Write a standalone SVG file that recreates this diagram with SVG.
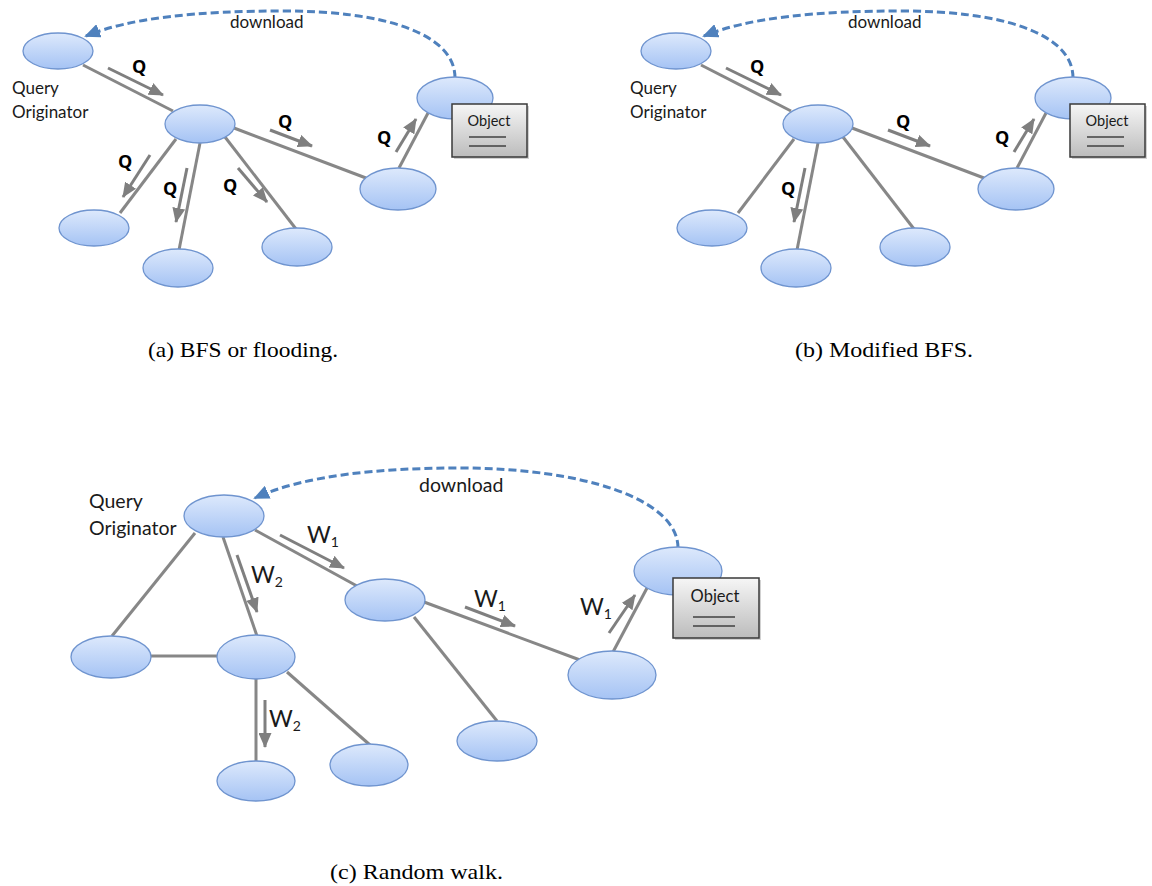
<svg xmlns="http://www.w3.org/2000/svg" width="1152" height="886" viewBox="0 0 1152 886">
<style>
.nd{fill:url(#ng);stroke:#6f94cf;stroke-width:1.3}
.ed{stroke:#878787;stroke-width:3;fill:none}
.ar{stroke:#7f7f7f;stroke-width:3;fill:none;marker-end:url(#ah)}
.dl{stroke:#4f81bd;stroke-width:3;fill:none;stroke-dasharray:8 4;marker-end:url(#dh)}
.bx{fill:url(#bg);stroke:#3a3a3a;stroke-width:1.5}
.sh{fill:#000;opacity:0.18}
.bl{stroke:#404040;stroke-width:1.3}
.t{font-family:Lato,"Open Sans",sans-serif;fill:#1a1a1a}
.q{font-family:"Open Sans",Lato,sans-serif;font-weight:bold;font-size:18px;fill:#000}
.w{font-family:Lato,"Open Sans",sans-serif;font-size:23px;fill:#1a1a1a}
.ws{font-family:Lato,"Open Sans",sans-serif;font-size:14px;fill:#1a1a1a}
.cap{font-family:"Liberation Serif","DejaVu Serif",serif;font-size:21px;fill:#000}
</style>
<defs>
<linearGradient id="ng" x1="0" y1="0" x2="0" y2="1">
<stop offset="0" stop-color="#dde9fc"/>
<stop offset="1" stop-color="#a5c3f4"/>
</linearGradient>
<linearGradient id="bg" x1="0" y1="0" x2="0" y2="1">
<stop offset="0" stop-color="#f6f6f6"/>
<stop offset="1" stop-color="#bcbcbc"/>
</linearGradient>
<marker id="ah" markerWidth="15" markerHeight="13" refX="14" refY="6.5" orient="auto" markerUnits="userSpaceOnUse">
<path d="M0,0 L15,6.5 L0,13 z" fill="#7f7f7f"/>
</marker>
<marker id="dh" markerWidth="16" markerHeight="14" refX="14" refY="7" orient="auto" markerUnits="userSpaceOnUse">
<path d="M0,0 L16,7 L0,14 z" fill="#4f81bd"/>
</marker>
</defs>

<!-- ===== Panel (a) ===== -->
<g id="a-connectors">
<line class="ed" x1="83" y1="65" x2="173" y2="111"/>
<line class="ed" x1="234" y1="128" x2="366" y2="178"/>
<line class="ed" x1="399" y1="168" x2="428" y2="113"/>
<line class="ed" x1="176" y1="139" x2="120" y2="213"/>
<line class="ed" x1="200" y1="143" x2="179" y2="250"/>
<line class="ed" x1="225" y1="137" x2="296" y2="229"/>
<line class="ar" x1="108" y1="68" x2="163" y2="95"/>
<line class="ar" x1="270" y1="130" x2="312" y2="146"/>
<line class="ar" x1="396" y1="152" x2="416" y2="119"/>
<line class="ar" x1="150" y1="155" x2="123" y2="197"/>
<line class="ar" x1="187" y1="168" x2="176" y2="222"/>
<line class="ar" x1="238" y1="168" x2="267" y2="202"/>
<path class="dl" d="M455,78 C455,32 380,11 285,11 C195,11 130,18 86,36"/>
</g>
<g id="a-labels">
<text class="q" x="132" y="73">Q</text>
<text class="q" x="278" y="128">Q</text>
<text class="q" x="377" y="144">Q</text>
<text class="q" x="118" y="168">Q</text>
<text class="q" x="163" y="195">Q</text>
<text class="q" x="223" y="192">Q</text>
<text class="t" x="230" y="28" font-size="17">download</text>
</g>
<g id="a-originator">
<ellipse class="nd" cx="58" cy="51" rx="35" ry="18"/>
<text class="t" x="12" y="94" font-size="17">Query</text>
<text class="t" x="12" y="118" font-size="17">Originator</text>
</g>
<g id="a-hub"><ellipse class="nd" cx="200" cy="124" rx="35" ry="19"/></g>
<g id="a-right"><ellipse class="nd" cx="398" cy="189" rx="38" ry="21"/></g>
<g id="a-ll"><ellipse class="nd" cx="94" cy="228" rx="35" ry="18"/></g>
<g id="a-bm"><ellipse class="nd" cx="178" cy="268" rx="35" ry="19"/></g>
<g id="a-br"><ellipse class="nd" cx="297" cy="247" rx="35" ry="19"/></g>
<g id="a-holder">
<ellipse class="nd" cx="455" cy="98" rx="38" ry="21"/>
<rect class="sh" x="454" y="106" width="75" height="53"/>
<rect class="bx" x="452" y="104" width="75" height="53"/>
<text class="t" x="489" y="126" font-size="14.5" text-anchor="middle">Object</text>
<line class="bl" x1="469" y1="137" x2="506" y2="137"/>
<line class="bl" x1="469" y1="146" x2="506" y2="146"/>
</g>

<!-- ===== Panel (b) ===== -->
<g id="b-connectors">
<line class="ed" x1="701" y1="65" x2="791" y2="111"/>
<line class="ed" x1="852" y1="128" x2="984" y2="178"/>
<line class="ed" x1="1017" y1="168" x2="1046" y2="113"/>
<line class="ed" x1="794" y1="139" x2="738" y2="213"/>
<line class="ed" x1="818" y1="143" x2="797" y2="250"/>
<line class="ed" x1="843" y1="137" x2="914" y2="229"/>
<line class="ar" x1="726" y1="68" x2="781" y2="95"/>
<line class="ar" x1="888" y1="130" x2="930" y2="146"/>
<line class="ar" x1="1014" y1="152" x2="1034" y2="119"/>
<line class="ar" x1="805" y1="168" x2="794" y2="222"/>
<path class="dl" d="M1073,78 C1073,32 998,11 903,11 C813,11 748,18 704,36"/>
</g>
<g id="b-labels">
<text class="q" x="750" y="73">Q</text>
<text class="q" x="896" y="128">Q</text>
<text class="q" x="995" y="144">Q</text>
<text class="q" x="781" y="195">Q</text>
<text class="t" x="848" y="28" font-size="17">download</text>
</g>
<g id="b-originator">
<ellipse class="nd" cx="676" cy="51" rx="35" ry="18"/>
<text class="t" x="630" y="94" font-size="17">Query</text>
<text class="t" x="630" y="118" font-size="17">Originator</text>
</g>
<g id="b-hub"><ellipse class="nd" cx="818" cy="124" rx="35" ry="19"/></g>
<g id="b-right"><ellipse class="nd" cx="1016" cy="189" rx="38" ry="21"/></g>
<g id="b-ll"><ellipse class="nd" cx="712" cy="228" rx="35" ry="18"/></g>
<g id="b-bm"><ellipse class="nd" cx="796" cy="268" rx="35" ry="19"/></g>
<g id="b-br"><ellipse class="nd" cx="915" cy="247" rx="35" ry="19"/></g>
<g id="b-holder">
<ellipse class="nd" cx="1073" cy="98" rx="38" ry="21"/>
<rect class="sh" x="1072" y="106" width="75" height="53"/>
<rect class="bx" x="1070" y="104" width="75" height="53"/>
<text class="t" x="1107" y="126" font-size="14.5" text-anchor="middle">Object</text>
<line class="bl" x1="1087" y1="137" x2="1124" y2="137"/>
<line class="bl" x1="1087" y1="146" x2="1124" y2="146"/>
</g>

<!-- ===== Panel (c) ===== -->
<g id="c-connectors">
<line class="ed" x1="195" y1="533" x2="112" y2="636"/>
<line class="ed" x1="151" y1="656" x2="217" y2="656"/>
<line class="ed" x1="223" y1="537" x2="257" y2="636"/>
<line class="ed" x1="256" y1="679" x2="256" y2="762"/>
<line class="ed" x1="287" y1="672" x2="370" y2="745"/>
<line class="ed" x1="255" y1="530" x2="357" y2="586"/>
<line class="ed" x1="424" y1="602" x2="580" y2="660"/>
<line class="ed" x1="414" y1="617" x2="497" y2="721"/>
<line class="ed" x1="613" y1="652" x2="647" y2="588"/>
<line class="ar" x1="280" y1="535" x2="344" y2="568"/>
<line class="ar" x1="237" y1="555" x2="257" y2="612"/>
<line class="ar" x1="265" y1="700" x2="265" y2="747"/>
<line class="ar" x1="465" y1="607" x2="515" y2="626"/>
<line class="ar" x1="609" y1="633" x2="635" y2="595"/>
<path class="dl" d="M678,548 C678,498 580,468 460,468 C380,468 305,475 255,498"/>
</g>
<g id="c-labels">
<text x="307" y="543"><tspan class="w">W</tspan><tspan class="ws" dy="4">1</tspan></text>
<text x="251" y="583"><tspan class="w">W</tspan><tspan class="ws" dy="4">2</tspan></text>
<text x="269" y="727"><tspan class="w">W</tspan><tspan class="ws" dy="4">2</tspan></text>
<text x="474" y="607"><tspan class="w">W</tspan><tspan class="ws" dy="4">1</tspan></text>
<text x="580" y="615"><tspan class="w">W</tspan><tspan class="ws" dy="4">1</tspan></text>
<text class="t" x="419" y="492" font-size="19.5">download</text>
</g>
<g id="c-originator">
<ellipse class="nd" cx="224" cy="516" rx="40" ry="21"/>
<text class="t" x="89" y="508" font-size="19.5">Query</text>
<text class="t" x="89" y="535" font-size="19.5">Originator</text>
</g>
<g id="c-ll"><ellipse class="nd" cx="111" cy="657" rx="40" ry="21"/></g>
<g id="c-mid"><ellipse class="nd" cx="256" cy="657" rx="39" ry="22"/></g>
<g id="c-bot"><ellipse class="nd" cx="256" cy="781" rx="39" ry="20"/></g>
<g id="c-br"><ellipse class="nd" cx="369" cy="765" rx="39" ry="21"/></g>
<g id="c-n2"><ellipse class="nd" cx="385" cy="600" rx="40" ry="21"/></g>
<g id="c-lm"><ellipse class="nd" cx="497" cy="741" rx="40" ry="20"/></g>
<g id="c-right"><ellipse class="nd" cx="612" cy="675" rx="44" ry="24"/></g>
<g id="c-holder">
<ellipse class="nd" cx="678" cy="571" rx="44" ry="24"/>
<rect class="sh" x="675" y="580" width="86" height="60"/>
<rect class="bx" x="673" y="578" width="86" height="60"/>
<text class="t" x="715" y="602" font-size="16.5" text-anchor="middle">Object</text>
<line class="bl" x1="693" y1="617" x2="735" y2="617"/>
<line class="bl" x1="693" y1="626" x2="735" y2="626"/>
</g>

<g id="captions">
<text class="cap" x="148" y="357" textLength="190" lengthAdjust="spacingAndGlyphs">(a) BFS or flooding.</text>
<text class="cap" x="795" y="357" textLength="178" lengthAdjust="spacingAndGlyphs">(b) Modified BFS.</text>
<text class="cap" x="330" y="879" textLength="173" lengthAdjust="spacingAndGlyphs">(c) Random walk.</text>
</g>
</svg>
